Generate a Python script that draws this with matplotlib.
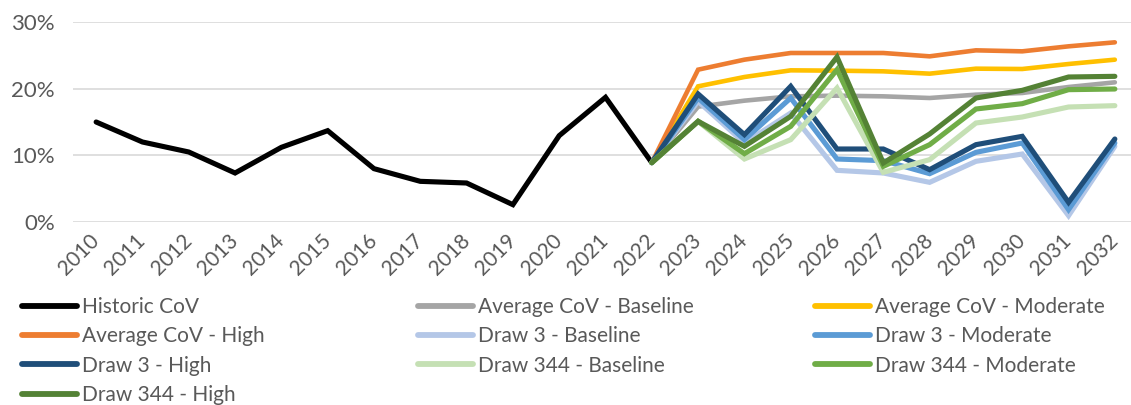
import matplotlib
matplotlib.use("Agg")
import matplotlib.pyplot as plt
from matplotlib.ticker import PercentFormatter

years = list(range(2010, 2033))

# historic coefficient of variation, 2010-2022
historic = [15.0, 12.0, 10.5, 7.35, 11.2, 13.7, 8.0, 6.1, 5.85, 2.6, 12.95, 18.7, 8.9]

# projections, 2022-2032 (start at last historic value)
avg_base = [8.9, 17.3, 18.2, 18.85, 18.95, 18.85, 18.6, 19.1, 19.35, 20.25, 20.95]
avg_mod = [8.9, 20.35, 21.75, 22.75, 22.7, 22.6, 22.25, 23.0, 22.95, 23.7, 24.35]
avg_high = [8.9, 22.85, 24.35, 25.35, 25.35, 25.35, 24.85, 25.75, 25.6, 26.35, 26.95]
d3_base = [8.9, 18.1, 11.85, 16.35, 7.75, 7.35, 5.95, 9.1, 10.2, 0.95, 11.35]
d3_mod = [8.9, 18.6, 12.35, 18.6, 9.45, 9.2, 7.25, 10.45, 11.85, 1.85, 11.85]
d3_high = [8.9, 19.2, 13.1, 20.35, 10.95, 10.95, 7.85, 11.6, 12.85, 2.95, 12.45]
d344_base = [8.9, 15.1, 9.45, 12.35, 20.1, 7.45, 9.35, 14.85, 15.75, 17.25, 17.45]
d344_mod = [8.9, 15.1, 10.25, 14.35, 22.85, 8.35, 11.6, 16.95, 17.75, 19.85, 19.95]
d344_high = [8.9, 15.1, 11.35, 15.85, 24.75, 8.85, 13.2, 18.6, 19.75, 21.75, 21.85]

labels = ["Historic CoV", "Average CoV - Baseline", "Average CoV - Moderate",
          "Average CoV - High", "Draw 3 - Baseline", "Draw 3 - Moderate",
          "Draw 3 - High", "Draw 344 - Baseline", "Draw 344 - Moderate",
          "Draw 344 - High"]
colors = ["#000000", "#A5A5A5", "#FFC000", "#ED7D31", "#B4C7E7", "#5B9BD5",
          "#1F4E79", "#C5E0B4", "#70AD47", "#548235"]

plt.rcParams['font.family'] = ['Lato', 'DejaVu Sans']
txt = '#595959'
fs = 15

fig = plt.figure(figsize=(11.31, 4.05), dpi=100)
ax = fig.add_axes([73 / 1131, 1 - 222 / 405, 1065 / 1131, 200 / 405])

n_hist = len(historic)
x_hist = list(range(n_hist))
x_proj = list(range(n_hist - 1, len(years)))
series = [historic, avg_base, avg_mod, avg_high, d3_base, d3_mod, d3_high,
          d344_base, d344_mod, d344_high]

handles = []
for i, (vals, lab, col) in enumerate(zip(series, labels, colors)):
    xs = x_hist if i == 0 else x_proj
    lw = 3.7 if i in (0, 4, 5, 6, 7, 8, 9) else 3.3
    ln, = ax.plot(xs, [v / 100 for v in vals], color=col, lw=lw, label=lab,
                  solid_capstyle='round', solid_joinstyle='miter', clip_on=False,
                  zorder=3 + i)
    handles.append(ln)

ax.set_xlim(-0.5, len(years) - 0.5)
ax.set_ylim(0, 0.30)
ax.set_yticks([0, 0.1, 0.2, 0.3])
ax.yaxis.set_major_formatter(PercentFormatter(1.0, decimals=0))
ax.set_xticks(range(len(years)))
ax.set_xticklabels([str(y) for y in years], rotation=45, ha='right',
                   va='center', rotation_mode='anchor')
ax.yaxis.grid(True, color='#D9D9D9', lw=1.2)
ax.set_axisbelow(True)
for s in ax.spines.values():
    s.set_visible(False)
ax.tick_params(axis='both', length=0, labelsize=fs, colors=txt)
ax.tick_params(axis='y', labelsize=fs + 1, pad=13)
ax.tick_params(axis='x', pad=11)

# three legend columns of equal width, filled row by row
col_x = [22 / 1131, 418 / 1131, 815 / 1131]
for c in range(3):
    hs = handles[c::3]
    leg = fig.legend(handles=hs, loc='upper left',
                     bbox_to_anchor=(col_x[c], 1 - 297 / 405),
                     frameon=False, fontsize=fs, handlelength=2.65,
                     handletextpad=0.25, borderpad=0, borderaxespad=0,
                     labelspacing=0.45, labelcolor=txt)
    for lh in leg.get_lines():
        lh.set_linewidth(4.2)
        lh.set_solid_capstyle('round')

fig.savefig('out.png', dpi=100)
